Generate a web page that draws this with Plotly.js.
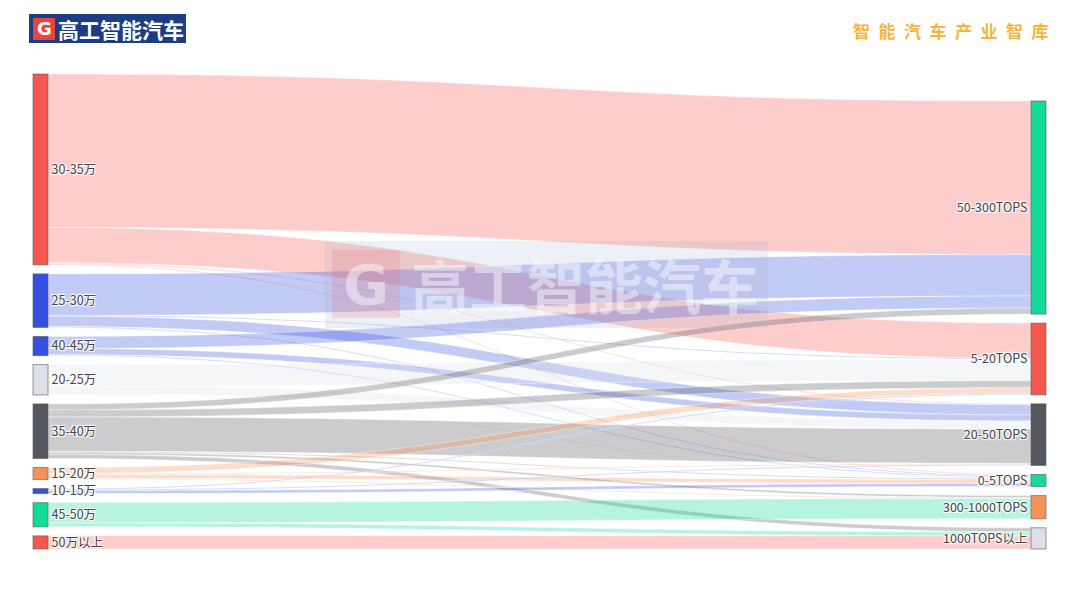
<!DOCTYPE html>
<html>
<head>
<meta charset="utf-8">
<script src="https://cdn.plot.ly/plotly-3.0.1.min.js"></script>
<style>
  html, body { margin: 0; padding: 0; background: #fff; }
  #chart { width: 1080px; height: 589px; }
</style>
</head>
<body>
<div id="chart"></div>
<script>
// ---- data ----
const priceBands = ['30-35万','25-30万','40-45万','20-25万','35-40万','15-20万','10-15万','45-50万','50万以上'];
const computeBands = ['50-300TOPS','5-20TOPS','20-50TOPS','0-5TOPS','300-1000TOPS','1000TOPS以上'];

const linkFrom = [
  '30-35万','30-35万','30-35万','30-35万',
  '25-30万','25-30万','25-30万','25-30万',
  '40-45万','40-45万','40-45万',
  '20-25万','20-25万','20-25万',
  '35-40万','35-40万','35-40万','35-40万','35-40万','35-40万',
  '15-20万','15-20万','15-20万','15-20万',
  '10-15万','10-15万','10-15万',
  '45-50万','45-50万',
  '50万以上'
];
const linkTo = [
  '50-300TOPS','5-20TOPS','20-50TOPS','0-5TOPS',
  '50-300TOPS','5-20TOPS','20-50TOPS','0-5TOPS',
  '50-300TOPS','20-50TOPS','0-5TOPS',
  '5-20TOPS','20-50TOPS','0-5TOPS',
  '50-300TOPS','5-20TOPS','20-50TOPS','0-5TOPS','300-1000TOPS','1000TOPS以上',
  '5-20TOPS','20-50TOPS','0-5TOPS','300-1000TOPS',
  '5-20TOPS','20-50TOPS','0-5TOPS',
  '300-1000TOPS','1000TOPS以上',
  '1000TOPS以上'
];
const linkValue = [
  152, 35, 1, 1,
  41, 1, 10, 1,
  12, 6, 1,
  21, 8, 1,
  6, 7, 34, 1, 2, 4,
  6, 1, 4, 1,
  1, 1, 3,
  20, 4,
  13
];

// ---- styles ----
const priceColors = ['#f4584e','#3450e0','#3450e0','#dde0e8','#55575f','#f59258','#3450e0','#12dc98','#f4584e'];
const computeColors = ['#12dc98','#f4584e','#55575f','#12dc98','#f59258','#dde0e8'];

const labels = priceBands.concat(computeBands);
const nodeColors = priceColors.concat(computeColors);

function hexToRgba(hex, a) {
  const n = parseInt(hex.slice(1), 16);
  return 'rgba(' + ((n >> 16) & 255) + ',' + ((n >> 8) & 255) + ',' + (n & 255) + ',' + a + ')';
}

const src = linkFrom.map(l => labels.indexOf(l));
const tgt = linkTo.map(l => labels.indexOf(l));
const linkColors = src.map(i => hexToRgba(nodeColors[i], 0.3));

const W = 1080, H = 589;
const M = { l: 33, r: 34, t: 74, b: 40 };
const pw = W - M.l - M.r, ph = H - M.t - M.b;
const px = x => (x - M.l) / pw;
const py = y => (H - M.b - y) / ph;

const trace = {
  type: 'sankey',
  orientation: 'h',
  arrangement: 'snap',
  node: {
    label: labels,
    color: nodeColors,
    thickness: 15,
    pad: 9,
    line: { color: 'rgba(90,90,90,0.6)', width: 1 }
  },
  link: {
    source: src,
    target: tgt,
    value: linkValue,
    color: linkColors,
    line: { color: 'rgba(255,255,255,0.8)', width: 0.5 }
  },
  textfont: { family: 'Noto Sans CJK SC, Noto Sans, sans-serif', size: 12.5, color: '#444' }
};

const shapes = [
  // header logo box
  { type: 'rect', xref: 'paper', yref: 'paper', x0: px(29), x1: px(186), y0: py(43), y1: py(14),
    fillcolor: '#1c3d84', line: { width: 0 }, layer: 'above' },
  { type: 'rect', xref: 'paper', yref: 'paper', x0: px(33), x1: px(55), y0: py(40), y1: py(18),
    fillcolor: '#e8453c', line: { width: 0 }, layer: 'above' },
  // watermark
  { type: 'rect', xref: 'paper', yref: 'paper', x0: px(325), x1: px(768), y0: py(328), y1: py(241),
    fillcolor: 'rgba(170,180,215,0.2)', line: { width: 0 }, layer: 'above' },
  { type: 'rect', xref: 'paper', yref: 'paper', x0: px(332), x1: px(400), y0: py(318), y1: py(250),
    fillcolor: 'rgba(235,110,110,0.2)', line: { width: 0 }, layer: 'above' }
];

const cjk = 'Noto Sans CJK SC, sans-serif';
const annotations = [
  { xref: 'paper', yref: 'paper', x: px(44), y: py(29), text: '<b>G</b>', showarrow: false,
    font: { family: 'DejaVu Sans, sans-serif', size: 18, color: '#ffffff' }, xanchor: 'center', yanchor: 'middle' },
  { xref: 'paper', yref: 'paper', x: px(121), y: py(29), text: '<b>高工智能汽车</b>', showarrow: false,
    font: { family: cjk, size: 21, color: '#ffffff' }, xanchor: 'center', yanchor: 'middle' },
  { xref: 'paper', yref: 'paper', x: px(1051), y: py(30), text: '<b>智\u2002能\u2002汽\u2002车\u2002产\u2002业\u2002智\u2002库</b>', showarrow: false,
    font: { family: cjk, size: 17, color: '#f5b43c' }, xanchor: 'right', yanchor: 'middle' },
  // watermark text
  { xref: 'paper', yref: 'paper', x: px(366), y: py(284), text: '<b>G</b>', showarrow: false,
    font: { family: 'DejaVu Sans, sans-serif', size: 56, color: 'rgba(255,255,255,0.45)' }, xanchor: 'center', yanchor: 'middle' },
  { xref: 'paper', yref: 'paper', x: px(585), y: py(284), text: '<b>高工智能汽车</b>', showarrow: false,
    font: { family: cjk, size: 58, color: 'rgba(255,255,255,0.45)' }, xanchor: 'center', yanchor: 'middle' }
];

const layout = {
  width: W, height: H,
  margin: M,
  paper_bgcolor: '#ffffff',
  plot_bgcolor: '#ffffff',
  font: { family: cjk, size: 12, color: '#444' },
  shapes: shapes,
  annotations: annotations,
  showlegend: false
};

Plotly.newPlot('chart', [trace], layout, { displayModeBar: false, staticPlot: true });
</script>
</body>
</html>
